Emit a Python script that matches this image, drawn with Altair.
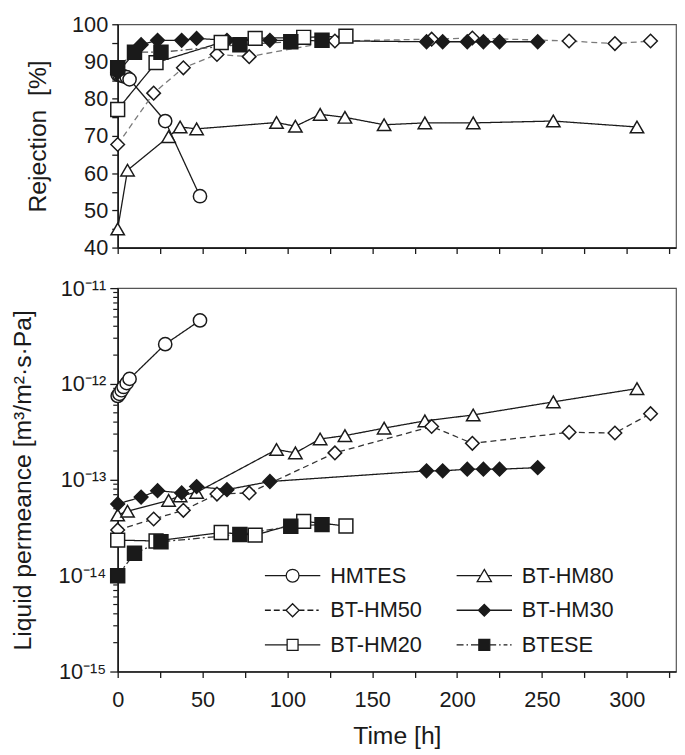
import json
import altair as alt
import pandas as pd

SERIES = ["HMTES", "BT-HM80", "BT-HM50", "BT-HM30", "BT-HM20", "BTESE"]

# ---- data ----
hmtes_time = [0, 1, 2.3, 3.5, 5.3, 7, 28, 48.5]
hmtes_rej = [86.5, 86.4, 86.2, 86.0, 85.8, 85.2, 74.0, 53.8]
hmtes_perm = [7.5e-13, 7.9e-13, 8.6e-13, 9.3e-13, 1.02e-12, 1.13e-12, 2.6e-12, 4.6e-12]

hm80_time = [0, 5.8, 30, 36.8, 46.5, 93.6, 104.7, 119.3, 133.9, 157, 181, 209.5, 256.7, 306]
hm80_rej = [45, 60.8, 69.8, 72.4, 71.9, 73.6, 72.6, 75.8, 75.0, 73.0, 73.5, 73.5, 74.0, 72.4]
hm80_perm = [4.3e-14, 4.7e-14, 6.1e-14, 6.8e-14, 7.4e-14, 2.07e-13, 1.91e-13, 2.67e-13,
             2.89e-13, 3.46e-13, 4.12e-13, 4.75e-13, 6.5e-13, 8.95e-13]

hm50_time = [0, 21.2, 38.7, 58.5, 77.5, 128, 185, 209, 266, 293, 314]
hm50_rej = [67.7, 81.5, 88.3, 91.9, 91.3, 95.5, 96.0, 96.3, 95.5, 94.8, 95.5]
hm50_perm = [3.0e-14, 3.9e-14, 4.8e-14, 7.1e-14, 7.3e-14, 1.91e-13, 3.6e-13, 2.4e-13,
             3.13e-13, 3.08e-13, 4.9e-13]

hm30_time = [0, 13.8, 23.5, 37.7, 46.5, 64.4, 89.7, 182, 191.5, 206, 215.5, 225, 247.5]
hm30_rej = [87.0, 94.5, 95.7, 95.7, 96.2, 95.7, 95.7, 95.3, 95.3, 95.3, 95.3, 95.3, 95.3]
hm30_perm = [5.6e-14, 6.6e-14, 7.7e-14, 7.3e-14, 8.5e-14, 7.9e-14, 9.6e-14, 1.24e-13,
             1.24e-13, 1.29e-13, 1.29e-13, 1.29e-13, 1.34e-13]

hm20_time = [0, 22.6, 61, 81, 109.6, 134.5]
hm20_rej = [77.1, 89.7, 95.1, 96.2, 96.5, 96.8]
hm20_perm = [2.35e-14, 2.3e-14, 2.82e-14, 2.65e-14, 3.69e-14, 3.3e-14]

btese_time = [0, 9.9, 25.5, 72, 102, 120.4]
btese_rej = [88.3, 92.5, 92.5, 94.5, 95.3, 95.7]
btese_perm = [1.0e-14, 1.71e-14, 2.26e-14, 2.69e-14, 3.28e-14, 3.41e-14]

X_TICKS = list(range(0, 326, 25))
REJ_TICKS = list(range(40, 101, 5))
DECADES = [1e-15, 1e-14, 1e-13, 1e-12, 1e-11]
DECADE_LABELS = ["10\u207b\u00b9\u2075", "10\u207b\u00b9\u2074", "10\u207b\u00b9\u00b3",
                 "10\u207b\u00b9\u00b2", "10\u207b\u00b9\u00b9"]
MINOR_MULTIPLIERS = [2, 3, 4, 5, 6, 7, 8, 9]
# legend is filled column by column: left column first, then right column
LEGEND_ORDER = ["HMTES", "BT-HM50", "BT-HM20", "BT-HM80", "BT-HM30", "BTESE"]

# ---- tables built from the lists ----
rows = []
for name, t, r, p in [
    ("HMTES", hmtes_time, hmtes_rej, hmtes_perm),
    ("BT-HM80", hm80_time, hm80_rej, hm80_perm),
    ("BT-HM50", hm50_time, hm50_rej, hm50_perm),
    ("BT-HM30", hm30_time, hm30_rej, hm30_perm),
    ("BT-HM20", hm20_time, hm20_rej, hm20_perm),
    ("BTESE", btese_time, btese_rej, btese_perm),
]:
    for ti, ri, pi in zip(t, r, p):
        rows.append({"series": name, "time": ti, "rej": ri, "perm": pi})
df = pd.DataFrame(rows)

minor_df = pd.DataFrame({"perm": [m * d for d in DECADES[:-1] for m in MINOR_MULTIPLIERS]})

# ---- styles ----
FONT = "Liberation Sans"
INK = "#1a1a1a"
SHAPES = ["circle", "triangle-up", "diamond", "diamond", "square", "square"]
FILLS = ["white", "white", "white", INK, "white", INK]
SIZES = [180, 200, 200, 150, 125, 125]
DASHES = [[1, 0], [1, 0], [6, 4], [1, 0], [1, 0], [7, 3, 2, 3]]
TOP_COLORS = [INK, INK, "#7a7a7a", INK, INK, "#555555"]
BOT_COLORS = [INK, INK, "#333333", INK, INK, "#333333"]


def seg(a, b):
    return f"M{a},0H{b}"


CIRC = "M-1.08,0A1.08,1.08 0 1,1 1.08,0A1.08,1.08 0 1,1 -1.08,0Z"
TRI = "M0,-1.05L1.2,1L-1.2,1Z"
DIA = "M0,-1.1L1.1,0L0,1.1L-1.1,0Z"
DIA_S = "M0,-1L1,0L0,1L-1,0Z"
SQR = "M-0.92,-0.92H0.92V0.92H-0.92Z"
LEGEND_PATH = {
    "HMTES": " ".join([seg(-4.67, -1.08), seg(1.08, 4.67), CIRC]),
    "BT-HM80": " ".join([seg(-4.67, -0.6), seg(0.6, 4.67), TRI]),
    "BT-HM50": " ".join([seg(-4.67, -3.67), seg(-3.17, -2.17), seg(-1.67, -1.1),
                         seg(1.1, 2.0), seg(2.5, 3.5), seg(4.0, 4.4), DIA]),
    "BT-HM30": " ".join([seg(-4.67, -1.0), seg(1.0, 4.67), DIA_S]),
    "BT-HM20": " ".join([seg(-4.67, -0.92), seg(0.92, 4.67), SQR]),
    "BTESE": " ".join([seg(-4.67, -3.5), seg(-3.0, -2.75), seg(-2.25, -0.92),
                       seg(0.92, 2.0), seg(2.5, 2.75), seg(3.25, 3.9), seg(4.35, 4.6), SQR]),
}
FILL_OF = dict(zip(SERIES, FILLS))

W = 565
xscale = alt.Scale(domain=[0, 329], nice=False, zero=False, padding=0)

# top panel
top_y = alt.Y("rej:Q", scale=alt.Scale(domain=[40, 100], nice=False, zero=False, padding=0),
              axis=alt.Axis(values=REJ_TICKS,
                            labelExpr="datum.value % 10 == 0 ? datum.label : ''",
                            title="Rejection\u00a0\u00a0[%]", minExtent=62, maxExtent=62,
                            titlePadding=6))
top_x = alt.X("time:Q", scale=xscale,
              axis=alt.Axis(values=X_TICKS, labels=False, title=None))

top_lines = alt.Chart(df).mark_line(strokeWidth=1.3).encode(
    x=top_x, y=top_y,
    color=alt.Color("series:N", scale=alt.Scale(domain=SERIES, range=TOP_COLORS), legend=None),
    strokeDash=alt.StrokeDash("series:N", scale=alt.Scale(domain=SERIES, range=DASHES), legend=None),
)
top_pts = alt.Chart(df).mark_point(opacity=1, strokeWidth=1.5, stroke=INK).encode(
    x=top_x, y=top_y,
    shape=alt.Shape("series:N", scale=alt.Scale(domain=SERIES, range=SHAPES), legend=None),
    fill=alt.Fill("series:N", scale=alt.Scale(domain=SERIES, range=FILLS), legend=None),
    size=alt.Size("series:N", scale=alt.Scale(domain=SERIES, range=SIZES), legend=None),
)
top = alt.layer(top_lines, top_pts).properties(width=W, height=226)

# bottom panel
decade_expr = ("round(log(datum.value)/LN10) + 15 >= 0 ? "
               + json.dumps(DECADE_LABELS, ensure_ascii=False)
               + "[round(log(datum.value)/LN10) + 15] : ''")
bot_scale = alt.Scale(type="log", domain=[1e-15, 1e-11], nice=False, padding=0)
bot_axis = alt.Axis(values=DECADES, labelExpr=decade_expr, tickSize=8,
                    title="Liquid permeance [m\u00b3/m\u00b2\u00b7s\u00b7Pa]",
                    minExtent=77, maxExtent=77, titlePadding=6)
bot_y = alt.Y("perm:Q", scale=bot_scale, axis=bot_axis)
bot_x = alt.X("time:Q", scale=xscale,
              axis=alt.Axis(values=X_TICKS, labelFlush=False,
                            labelExpr="datum.value % 50 == 0 ? datum.label : ''",
                            title="Time [h]", labelPadding=12, titlePadding=14))

bot_lines = alt.Chart(df).mark_line(strokeWidth=1.3).encode(
    x=bot_x, y=bot_y,
    color=alt.Color("series:N", scale=alt.Scale(domain=SERIES, range=BOT_COLORS), legend=None),
    strokeDash=alt.StrokeDash("series:N", scale=alt.Scale(domain=SERIES, range=DASHES), legend=None),
)
bot_pts = alt.Chart(df).mark_point(opacity=1, strokeWidth=1.5, stroke=INK).encode(
    x=bot_x, y=bot_y,
    shape=alt.Shape("series:N", scale=alt.Scale(domain=SERIES, range=SHAPES), legend=None),
    fill=alt.Fill("series:N", scale=alt.Scale(domain=SERIES, range=FILLS), legend=None),
    size=alt.Size("series:N", scale=alt.Scale(domain=SERIES, range=SIZES), legend=None),
)
# shorter minor ticks on the log axis
bot_minor = alt.Chart(minor_df).mark_rule(color=INK, strokeWidth=1.2).encode(
    y=alt.Y("perm:Q", scale=bot_scale, axis=bot_axis),
    x=alt.value(-4.5), x2=alt.value(0),
)
leg = alt.Legend(title=None, orient="none", legendX=166, legendY=280, columns=2,
                 symbolSize=144, symbolStrokeColor=INK, symbolStrokeWidth=1.3,
                 symbolOpacity=1, labelFont=FONT, labelFontSize=22, labelColor=INK,
                 labelOffset=27, rowPadding=13, columnPadding=32, padding=0,
                 labelLimit=300)
bot_leg = alt.Chart(df).transform_filter("false").mark_point(opacity=1, strokeWidth=1.3).encode(
    shape=alt.Shape("series:N", scale=alt.Scale(domain=LEGEND_ORDER,
                                                range=[LEGEND_PATH[s] for s in LEGEND_ORDER]),
                    legend=leg),
    fill=alt.Fill("series:N", scale=alt.Scale(domain=LEGEND_ORDER,
                                              range=[FILL_OF[s] for s in LEGEND_ORDER]),
                  legend=leg),
    stroke=alt.Stroke("series:N", scale=alt.Scale(domain=LEGEND_ORDER, range=[INK] * 6),
                      legend=leg),
)
bottom = alt.layer(bot_minor, bot_lines, bot_pts, bot_leg).resolve_scale(
    shape="independent", fill="independent", stroke="independent"
).properties(width=W, height=388)

chart = alt.vconcat(top, bottom, spacing=17).resolve_scale(
    shape="independent", fill="independent", color="independent",
    strokeDash="independent", size="independent", stroke="independent"
).properties(
    padding={"left": 2, "top": 0, "right": 0, "bottom": 0}
).configure_view(
    stroke="#555555", strokeWidth=1.2
).configure_axis(
    domainColor=INK, domainWidth=1.6, tickColor=INK, tickWidth=1.3, tickSize=6,
    labelFont=FONT, labelFontSize=22, labelColor=INK, titleFont=FONT,
    titleFontSize=25, titleFontWeight="normal", titleColor=INK, grid=False,
    labelPadding=4
)

chart.save("out.html", embed_options={"renderer": "svg", "actions": False})
